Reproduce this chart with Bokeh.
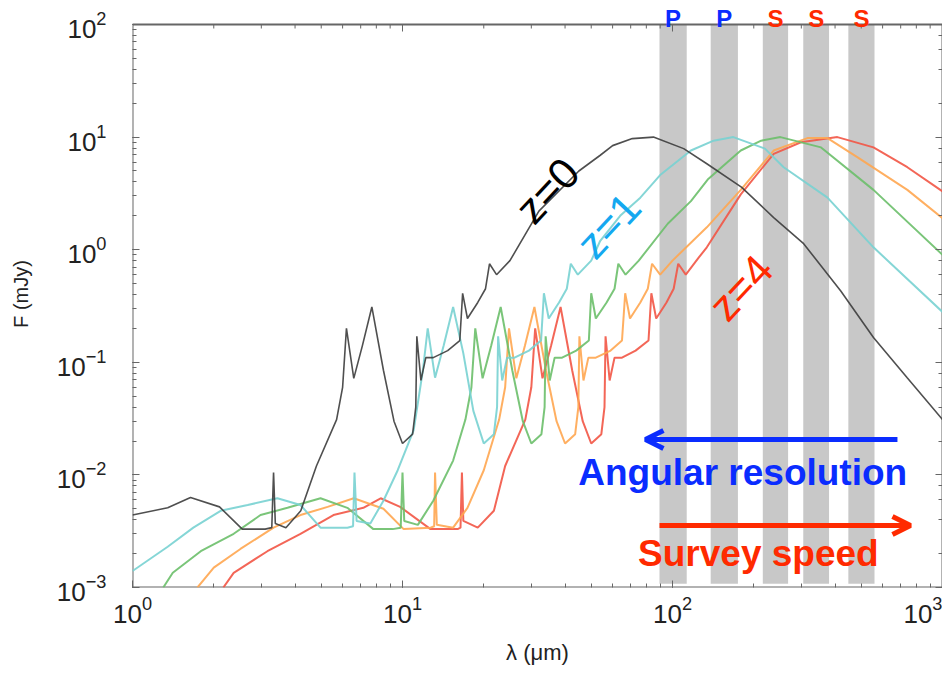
from bokeh.plotting import figure
from bokeh.models import Range1d, LogAxis, Label, Arrow, OpenHead, ColumnDataSource
from bokeh.core.properties import value
from bokeh.embed import file_html
from bokeh.resources import INLINE

# ---------------- data ----------------
# z = 0 (black)
lam0 = [1.0, 1.35, 1.64, 2.1, 2.55, 3.1, 3.28, 3.33, 3.38, 3.7, 4.2, 4.8, 5.7, 6.0, 6.2, 6.6,
        7.1, 7.7, 8.5, 9.3, 10.0, 10.9, 11.2, 11.3, 11.7, 12.2, 13.0, 14.7, 16.3, 16.7, 17.4,
        19.0, 20.3, 21.0, 22.3, 25.0, 32.0, 45.0, 54.0, 60.0, 71.0, 85.0, 110.0, 134.0, 180.0,
        237.0, 306.0, 420.0, 555.0, 740.0, 1000.0]
flux0 = [0.0044, 0.0051, 0.0063, 0.0052, 0.0033, 0.0033, 0.0034, 0.0105, 0.0037, 0.0034, 0.0048,
         0.012, 0.031, 0.06, 0.20, 0.072, 0.14, 0.31, 0.085, 0.03, 0.019, 0.023, 0.04, 0.17,
         0.069, 0.11, 0.11, 0.127, 0.156, 0.41, 0.245, 0.34, 0.45, 0.75, 0.6, 0.8, 2.2, 5.0,
         6.9, 8.4, 9.7, 10.0, 7.9, 5.8, 3.6, 1.93, 1.13, 0.43, 0.166, 0.073, 0.031]

# z = 1 (cyan)
lam1 = [1.0, 1.35, 1.68, 2.12, 2.67, 3.44, 4.19, 4.97, 6.25, 6.56, 6.64, 6.76, 7.6, 8.5, 9.6,
        11.0, 11.9, 12.4, 13.2, 14.2, 15.4, 16.8, 18.3, 20.0, 21.8, 22.4, 22.6, 23.4, 24.4, 26.0,
        29.4, 32.6, 33.4, 34.8, 38.0, 40.6, 42.0, 44.6, 50.0, 54.0, 64.0, 76.0, 90.0, 117.0,
        142.0, 168.0, 220.0, 258.0, 375.0, 555.0, 1000.0]
flux1 = [0.0014, 0.0023, 0.0034, 0.0048, 0.0054, 0.0062, 0.0054, 0.0034, 0.0034, 0.0035, 0.0105,
         0.0039, 0.0037, 0.0059, 0.011, 0.025, 0.085, 0.20, 0.073, 0.14, 0.31, 0.12, 0.037, 0.019,
         0.023, 0.04, 0.17, 0.069, 0.11, 0.11, 0.127, 0.156, 0.41, 0.245, 0.34, 0.45, 0.75, 0.6,
         0.8, 1.2, 2.0, 2.9, 4.6, 7.6, 9.3, 10.0, 7.9, 5.4, 2.9, 1.05, 0.28]

# z = 2 (green)
lam2 = [1.30, 1.41, 1.79, 2.37, 2.98, 3.75, 4.97, 6.25, 7.8, 9.2, 9.85, 10.0, 10.15, 11.4, 13.0,
        15.4, 17.1, 18.0, 18.6, 19.8, 21.3, 23.1, 25.5, 27.9, 30.0, 32.7, 33.6, 33.9, 35.1, 36.6,
        39.0, 44.0, 49.0, 50.0, 52.0, 57.0, 61.0, 63.0, 67.0, 75.0, 96.0, 117.0, 135.0, 179.0,
        213.0, 251.0, 355.0, 555.0, 1000.0]
flux2 = [0.001, 0.00135, 0.0021, 0.003, 0.0044, 0.0051, 0.0062, 0.0051, 0.0033, 0.0033, 0.0034,
         0.0105, 0.0039, 0.0036, 0.0059, 0.0134, 0.031, 0.06, 0.20, 0.072, 0.14, 0.31, 0.085,
         0.03, 0.019, 0.023, 0.04, 0.17, 0.069, 0.11, 0.11, 0.127, 0.156, 0.41, 0.245, 0.34,
         0.45, 0.75, 0.6, 0.8, 1.7, 2.7, 4.2, 7.6, 9.3, 10.0, 8.1, 3.4, 0.9]

# z = 3 (orange)
lam3 = [1.74, 2.0, 2.51, 3.33, 4.19, 5.28, 6.6, 8.5, 10.1, 12.7, 13.1, 13.2, 13.4, 15.4, 17.4,
        20.0, 22.8, 24.0, 24.8, 26.4, 28.4, 30.8, 34.0, 37.2, 40.0, 43.6, 44.8, 45.2, 46.8, 48.8,
        52.0, 59.0, 65.0, 66.8, 69.6, 76.0, 81.0, 84.0, 90.0, 100.0, 134.0, 179.0, 237.0, 316.0,
        375.0, 485.0, 741.0, 1000.0]
flux3 = [0.001, 0.0015, 0.0022, 0.0034, 0.0044, 0.0052, 0.0062, 0.005, 0.0033, 0.0034, 0.0035,
         0.0105, 0.0036, 0.0034, 0.0051, 0.011, 0.031, 0.06, 0.20, 0.072, 0.14, 0.31, 0.085,
         0.03, 0.019, 0.023, 0.04, 0.17, 0.069, 0.11, 0.11, 0.127, 0.156, 0.41, 0.245, 0.34,
         0.45, 0.75, 0.6, 0.8, 1.58, 3.4, 7.6, 9.8, 9.8, 6.6, 3.4, 1.9]

# z = 4 (red)
lam4 = [2.17, 2.37, 3.16, 4.19, 5.55, 7.16, 8.3, 9.8, 12.7, 16.0, 16.4, 16.6, 16.8, 19.0, 21.8,
        24.0, 28.5, 30.0, 31.0, 33.0, 35.5, 38.5, 42.5, 46.5, 50.0, 54.5, 56.0, 56.5, 58.5, 61.0,
        65.0, 73.0, 81.5, 83.5, 87.0, 95.0, 101.0, 105.0, 112.0, 125.0, 134.0, 179.0, 237.0,
        299.0, 408.0, 555.0, 741.0, 1000.0]
flux4 = [0.001, 0.00135, 0.0021, 0.003, 0.0044, 0.0051, 0.0062, 0.0052, 0.0033, 0.0033, 0.0034,
         0.0105, 0.0039, 0.0034, 0.0048, 0.012, 0.031, 0.06, 0.20, 0.072, 0.14, 0.31, 0.085,
         0.03, 0.019, 0.023, 0.04, 0.17, 0.069, 0.11, 0.11, 0.127, 0.156, 0.41, 0.245, 0.34,
         0.45, 0.75, 0.6, 0.85, 1.05, 3.1, 7.1, 9.0, 10.0, 8.1, 5.4, 3.3]

# instrument bands (wavelength edges, micron)
band_left = [89.5, 138.5, 216.0, 305.0, 448.0]
band_right = [112.9, 174.7, 268.0, 380.0, 560.0]
band_letters = ["P", "P", "S", "S", "S"]

# axis limits
X_MIN, X_MAX = 1.0, 1000.0
Y_MIN, Y_MAX = 1e-3, 1e2

# ---------------- styling ----------------
BLUE = "#0a2cff"
RED = "#ff2a00"
FONT = "Liberation Sans"
AX = "#666666"
DEC_PX = 112.6          # pixels per decade on the y axis
TOP_PAD = 24            # pixels of room above the top of the axes box

# the frame reaches to the page top; the axes box itself stops at Y_MAX
y_top = Y_MAX * 10 ** (TOP_PAD / DEC_PX)

p = figure(width=942, height=673, x_axis_type="log", y_axis_type="log",
           x_range=Range1d(X_MIN, X_MAX), y_range=Range1d(Y_MIN, y_top),
           output_backend="svg", toolbar_location=None,
           min_border_left=132, min_border_right=0, min_border_top=0, min_border_bottom=86)
p.xgrid.visible = False
p.ygrid.visible = False
p.outline_line_color = None
p.background_fill_color = "white"
p.border_fill_color = "white"

for ax in (p.xaxis[0], p.yaxis[0]):
    ax.major_tick_in = 7
    ax.major_tick_out = 0
    ax.minor_tick_in = 4
    ax.minor_tick_out = 0
    ax.axis_line_color = None
    ax.major_tick_line_color = AX
    ax.minor_tick_line_color = AX
    ax.major_label_text_font = FONT
    ax.major_label_text_font_size = "26px"
    ax.major_label_text_color = "#222222"
    ax.axis_label_text_font = FONT
    ax.axis_label_text_font_style = "normal"
    ax.axis_label_text_color = "#222222"

p.xaxis.axis_label = "λ (μm)"
p.xaxis.axis_label_text_font_size = "22px"
p.xaxis.major_label_standoff = 8
p.xaxis.axis_label_standoff = 14
p.yaxis.axis_label = "F (mJy)"
p.yaxis.axis_label_text_font_size = "20px"
p.yaxis.major_label_standoff = 26
p.yaxis.axis_label_standoff = 22

rax = LogAxis(major_tick_in=7, major_tick_out=0, minor_tick_in=4, minor_tick_out=0,
              axis_line_color=None, major_tick_line_color=AX,
              minor_tick_line_color=AX, major_label_text_font_size="1px",
              major_label_text_alpha=0.0, major_label_standoff=0)
p.add_layout(rax, "right")

# gray bands
bsrc = ColumnDataSource(dict(left=band_left, right=band_right))
p.quad(left="left", right="right", bottom=1.08e-3, top=Y_MAX, source=bsrc,
       fill_color="#c8c8c8", line_color=None)

# axes box (left, bottom, right edges and the top edge at Y_MAX)
p.quad(left=X_MIN, right=X_MAX, bottom=Y_MIN, top=Y_MAX, fill_color=None,
       line_color=AX, line_width=2)

# inward ticks along the top edge
top_ticks = [m * 10 ** e for e in range(3) for m in range(1, 10)][1:]
tick_len = [7 if t in (10, 100) else 4 for t in top_ticks]
p.segment(x0=top_ticks, y0=[Y_MAX] * len(top_ticks), x1=top_ticks,
          y1=[Y_MAX * 10 ** (-L / DEC_PX) for L in tick_len], line_color=AX, line_width=1)

# curves
curves = [
    (lam4, flux4, "#f25545", 2.0),
    (lam3, flux3, "#ffa650", 2.0),
    (lam2, flux2, "#6cbf6a", 2.0),
    (lam1, flux1, "#78d2d2", 2.0),
    (lam0, flux0, "#3c3c3c", 1.6),
]
for lx, fy, col, lw in curves:
    p.line(lx, fy, line_color=col, line_width=lw, line_alpha=0.9)

# band letters above the axes box
centers = [(l * r) ** 0.5 for l, r in zip(band_left, band_right)]
letter_colors = [BLUE if t == "P" else RED for t in band_letters]
tsrc = ColumnDataSource(dict(x=centers, y=[Y_MAX * 10 ** (6 / DEC_PX)] * len(centers),
                             text=band_letters, color=letter_colors))
p.text(x="x", y="y", text="text", text_color="color", source=tsrc, text_align="center",
       text_baseline="alphabetic", text_font=value(FONT), text_font_style="bold",
       text_font_size="24px")

# redshift labels
for txt, x, y, col in (("z=0", 34.4, 3.36, "#000000"), ("z=1", 58.0, 1.64, "#14a8f0"),
                       ("z=4", 179.0, 0.46, RED)):
    p.add_layout(Label(x=x, y=y, text=txt, angle=47, angle_units="deg", text_color=col,
                       text_align="center", text_baseline="middle", text_font=FONT,
                       text_font_size="43px"))

# arrows and annotations
p.add_layout(Arrow(end=OpenHead(line_color=BLUE, line_width=5, size=18),
                   x_start=681, y_start=0.0206, x_end=79.4, y_end=0.0206,
                   line_color=BLUE, line_width=5))
p.add_layout(Arrow(end=OpenHead(line_color=RED, line_width=5, size=18),
                   x_start=89.5, y_start=0.00356, x_end=761, y_end=0.00356,
                   line_color=RED, line_width=5))
p.add_layout(Label(x=182, y=0.0105, text="Angular resolution", text_color=BLUE,
                   text_align="center", text_baseline="middle", text_font=FONT,
                   text_font_style="bold", text_font_size="37px"))
p.add_layout(Label(x=208, y=0.002, text="Survey speed", text_color=RED,
                   text_align="center", text_baseline="middle", text_font=FONT,
                   text_font_style="bold", text_font_size="37px"))

open("out.html", "w").write(file_html(p, INLINE))
